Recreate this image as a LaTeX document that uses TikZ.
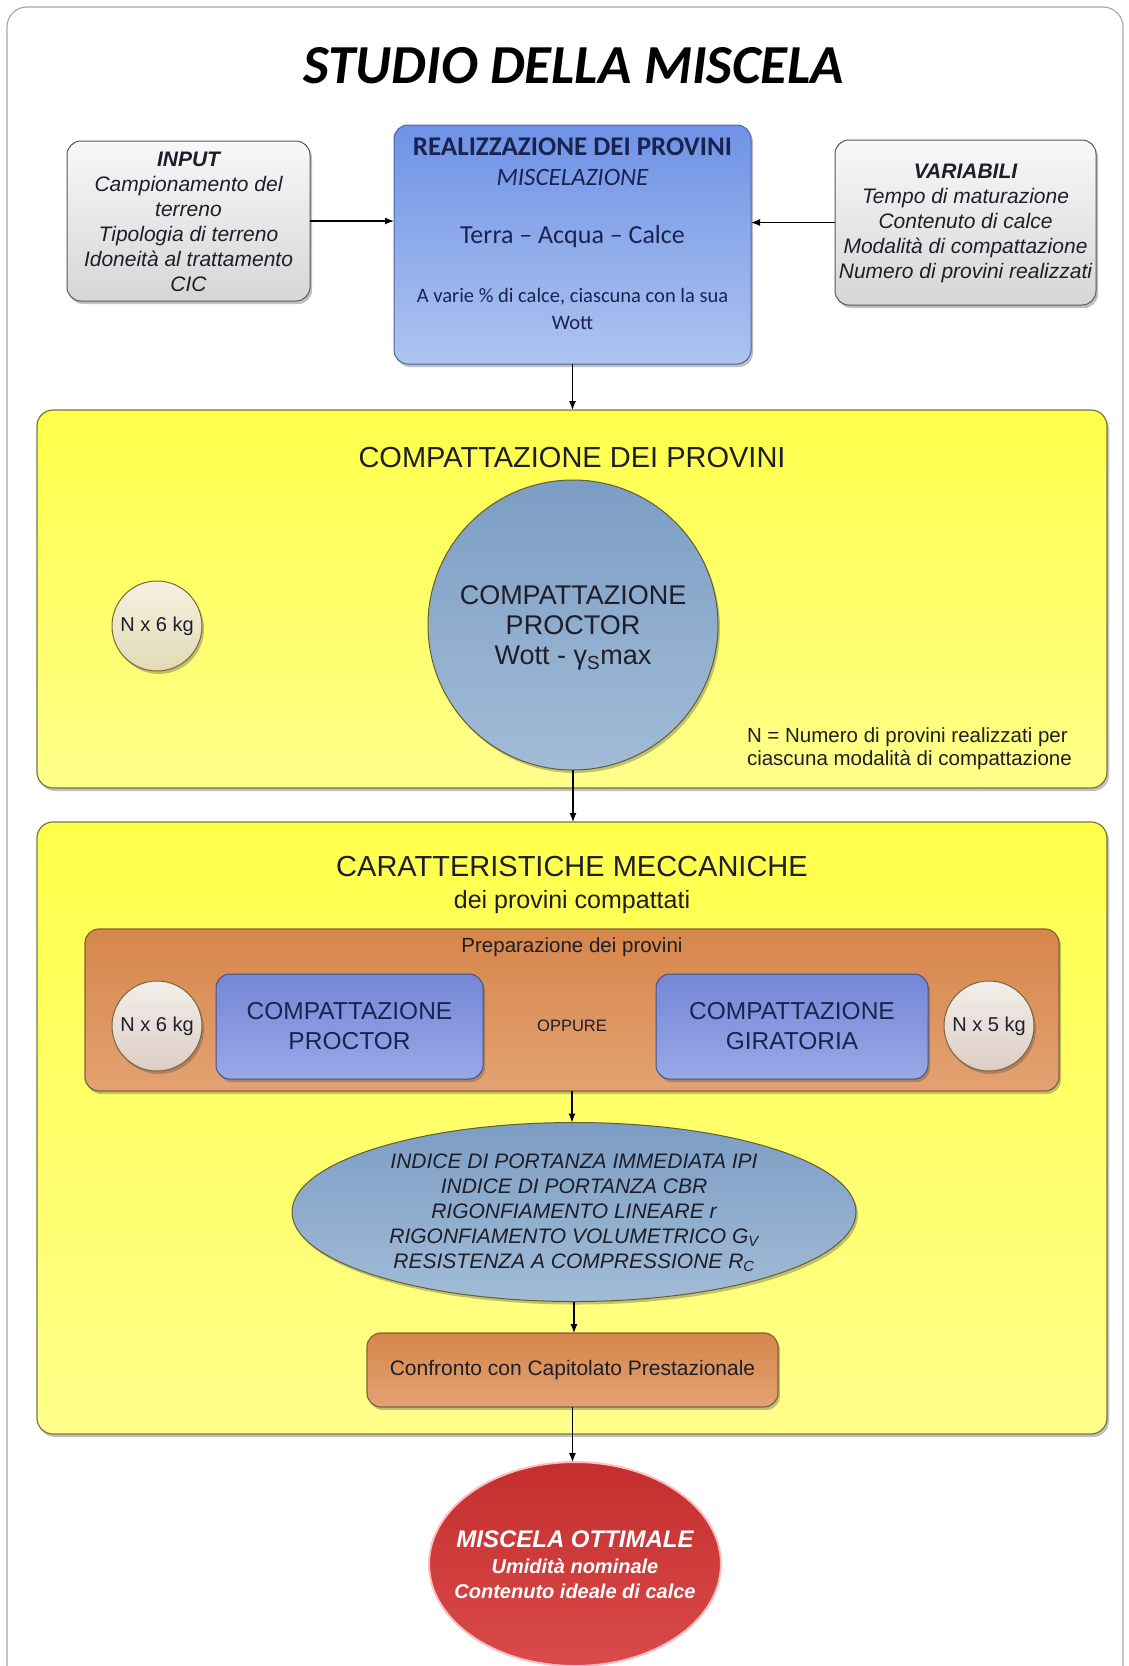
\documentclass[tikz,border=0pt]{standalone}
\usepackage{fontspec}
\setmainfont{Liberation Sans}
\newfontfamily\calfont{Carlito}
\usetikzlibrary{shapes.geometric,shadows,arrows.meta}
\newcommand\myfs[2]{\fontsize{#1}{#2}\selectfont}
\definecolor{ink}{HTML}{1E1E2A}
\definecolor{navy}{HTML}{1A2350}
\definecolor{framec}{HTML}{A8A8A8}
\definecolor{graytop}{HTML}{F8F8F8}
\definecolor{graybot}{HTML}{D6D6D6}
\definecolor{bluetop}{HTML}{6E92E6}
\definecolor{bluebot}{HTML}{AEC4F0}
\definecolor{yeltop}{HTML}{FFFF4A}
\definecolor{yelbot}{HTML}{FFFF8A}
\definecolor{yeldraw}{HTML}{77773F}
\definecolor{creamtop}{HTML}{F6F2E0}
\definecolor{creambot}{HTML}{E2DAB6}
\definecolor{steeltop}{HTML}{7C9DC4}
\definecolor{steelbot}{HTML}{A2BCD6}
\definecolor{browntop}{HTML}{D6864A}
\definecolor{brownbot}{HTML}{E3A272}
\definecolor{brdraw}{HTML}{7E6338}
\definecolor{lbluetop}{HTML}{7486D6}
\definecolor{lbluebot}{HTML}{9AA8E8}
\definecolor{pinktop}{HTML}{F3EEEA}
\definecolor{pinkbot}{HTML}{DCCEC4}
\definecolor{redtop}{HTML}{C42E2E}
\definecolor{redbot}{HTML}{DA4A4A}
\begin{document}
\begin{tikzpicture}[x=1pt,y=-1pt,
  every node/.style={inner sep=0pt, outer sep=0pt, text=ink},
  shad/.style={drop shadow={shadow xshift=2pt, shadow yshift=-3pt, opacity=0.35, fill=black!70}},
  graybox/.style={draw=black!65, line width=1pt, rounded corners=14pt, top color=graytop, bottom color=graybot, shad},
  bluebox/.style={draw=bluetop!70!black, line width=1pt, rounded corners=14pt, top color=bluetop, bottom color=bluebot, shad},
  yelbox/.style={draw=yeldraw, line width=1.2pt, rounded corners=16pt, top color=yeltop, bottom color=yelbot, shad},
  brownbox/.style={draw=brdraw, line width=1.2pt, rounded corners=14pt, top color=browntop, bottom color=brownbot, shad},
  lbluebox/.style={draw=lbluetop!60!black, line width=1pt, rounded corners=14pt, top color=lbluetop, bottom color=lbluebot, shad},
  kgcirc/.style={circle, draw=brdraw, line width=1pt, minimum size=90pt, shad},
  arr/.style={-{Latex[length=9pt,width=7pt]}, line width=1.2pt, draw=black},
  lbl/.style={align=center}
]
\useasboundingbox (0,0) rectangle (1128,1666);
\fill[white] (0,0) rectangle (1128,1666);
\begin{scope}
\clip (0,0) rectangle (1128,1666);
\draw[framec, line width=1.2pt, rounded corners=20pt] (7,7) rectangle (1123,1700);

% title
\node[font={\calfont\bfseries\itshape\myfs{55}{62}}, text=black] (title) at (574,66) {STUDIO DELLA MISCELA};

% top row
\node[graybox, minimum width=243pt, minimum height=160pt] (input) at (188.5,221) {};
\node[lbl, font={\itshape\myfs{21}{25}}] (inputtxt) at (188.5,222)
  {\textbf{INPUT}\\Campionamento del\\terreno\\Tipologia di terreno\\Idoneità al trattamento\\CIC};

\node[bluebox, minimum width=357pt, minimum height=239pt] (mix) at (572.5,244.5) {};
\node[font={\calfont\bfseries\myfs{27}{30}}, text=navy] (mix1) at (572.5,147) {REALIZZAZIONE DEI PROVINI};
\node[font={\calfont\itshape\myfs{25}{30}}, text=navy] (mix2) at (572.5,177) {MISCELAZIONE};
\node[font={\calfont\myfs{26}{30}}, text=navy] (mix3) at (572.5,237) {Terra – Acqua – Calce};
\node[font={\calfont\myfs{20.5}{26}}, text=navy] (mix4) at (572.5,297) {A varie \% di calce, ciascuna con la sua};
\node[font={\calfont\myfs{20.5}{26}}, text=navy] (mix5) at (572.5,323) {Wott};

\node[graybox, minimum width=261pt, minimum height=165pt] (var) at (965.5,222.5) {};
\node[lbl, font={\itshape\myfs{21}{25}}] (vartxt) at (965.5,223)
  {\textbf{VARIABILI}\\Tempo di maturazione\\Contenuto di calce\\Modalità di compattazione\\Numero di provini realizzati};

% section 1
\node[yelbox, minimum width=1070pt, minimum height=378pt] (sec1) at (572,599) {};
\node[font=\myfs{29}{34}] (sec1t) at (572,458) {COMPATTAZIONE DEI PROVINI};
\node[kgcirc, top color=creamtop, bottom color=creambot] (kg1) at (157,626) {};
\node[font=\myfs{20}{24}] (kg1t) at (157,626) {N x 6 kg};
\node[circle, draw=yeldraw!80!black, line width=1pt, minimum size=290pt, top color=steeltop, bottom color=steelbot, shad] (proc) at (573,625) {};
\node[lbl, font=\myfs{27}{30}] (proct) at (573,628) {COMPATTAZIONE\\PROCTOR\\Wott - γ\textsubscript{S}max};
\node[align=left, anchor=west, font=\myfs{20.5}{23}] (note) at (747,749) {N = Numero di provini realizzati per\\ciascuna modalità di compattazione};

% section 2
\node[yelbox, minimum width=1070pt, minimum height=612pt] (sec2) at (572,1128) {};
\node[font=\myfs{29}{34}] (sec2t) at (572,867) {CARATTERISTICHE MECCANICHE};
\node[font=\myfs{25}{30}] (sec2s) at (572,902) {dei provini compattati};

\node[brownbox, minimum width=974pt, minimum height=162pt] (prep) at (572,1010) {};
\node[font=\myfs{20.5}{24}] (prept) at (572,947) {Preparazione dei provini};
\node[kgcirc, top color=pinktop, bottom color=pinkbot] (kg2) at (157,1026) {};
\node[font=\myfs{20}{24}] (kg2t) at (157,1026) {N x 6 kg};
\node[lbluebox, minimum width=267pt, minimum height=105pt] (pbox) at (349.5,1026.5) {};
\node[lbl, font=\myfs{24.5}{30}, text=navy] (pboxt) at (349.5,1026) {COMPATTAZIONE\\PROCTOR};
\node[font=\myfs{16.5}{20}] (oppure) at (572,1026) {OPPURE};
\node[lbluebox, minimum width=272pt, minimum height=105pt] (gbox) at (792,1026.5) {};
\node[lbl, font=\myfs{24.5}{30}, text=navy] (gboxt) at (792,1026) {COMPATTAZIONE\\GIRATORIA};
\node[kgcirc, top color=pinktop, bottom color=pinkbot] (kg3) at (989,1026) {};
\node[font=\myfs{20}{24}] (kg3t) at (989,1026) {N x 5 kg};

\node[ellipse, draw=yeldraw!80!black, line width=1pt, minimum width=564pt, minimum height=179pt, top color=steeltop, bottom color=steelbot, shad] (ipi) at (574,1212) {};
\node[lbl, font={\itshape\myfs{21}{25}}] (ipit) at (574,1213)
  {INDICE DI PORTANZA IMMEDIATA IPI\\INDICE DI PORTANZA CBR\\RIGONFIAMENTO LINEARE r\\RIGONFIAMENTO VOLUMETRICO G\textsubscript{V}\\RESISTENZA A COMPRESSIONE R\textsubscript{C}};

\node[brownbox, minimum width=411pt, minimum height=74pt] (conf) at (572.5,1370) {};
\node[font=\myfs{21}{25}] (conft) at (572.5,1370) {Confronto con Capitolato Prestazionale};

% result
\node[ellipse, draw=red!25!white, line width=2pt, minimum width=292pt, minimum height=204pt, top color=redtop, bottom color=redbot] (opt) at (575,1564) {};
\node[lbl, font={\bfseries\itshape\myfs{20}{25.5}}, text=white] (optt) at (575,1565)
  {{\myfs{24}{25.5}MISCELA OTTIMALE}\\Umidità nominale\\Contenuto ideale di calce};

% connectors
\draw[arr] (input.east) -- (input.east -| mix.west);
\draw[arr] (var.west) -- (var.west -| mix.east);
\draw[arr] (mix.south) -- (mix.south |- sec1.north);
\draw[arr] (proc.south) -- (proc.south |- sec2.north);
\draw[arr] (prep.south) -- (prep.south |- ipi.north);
\draw[arr] (ipi.south) -- (ipi.south |- conf.north);
\draw[arr] (conf.south) -- (conf.south |- opt.north);
\end{scope}
\end{tikzpicture}
\end{document}
